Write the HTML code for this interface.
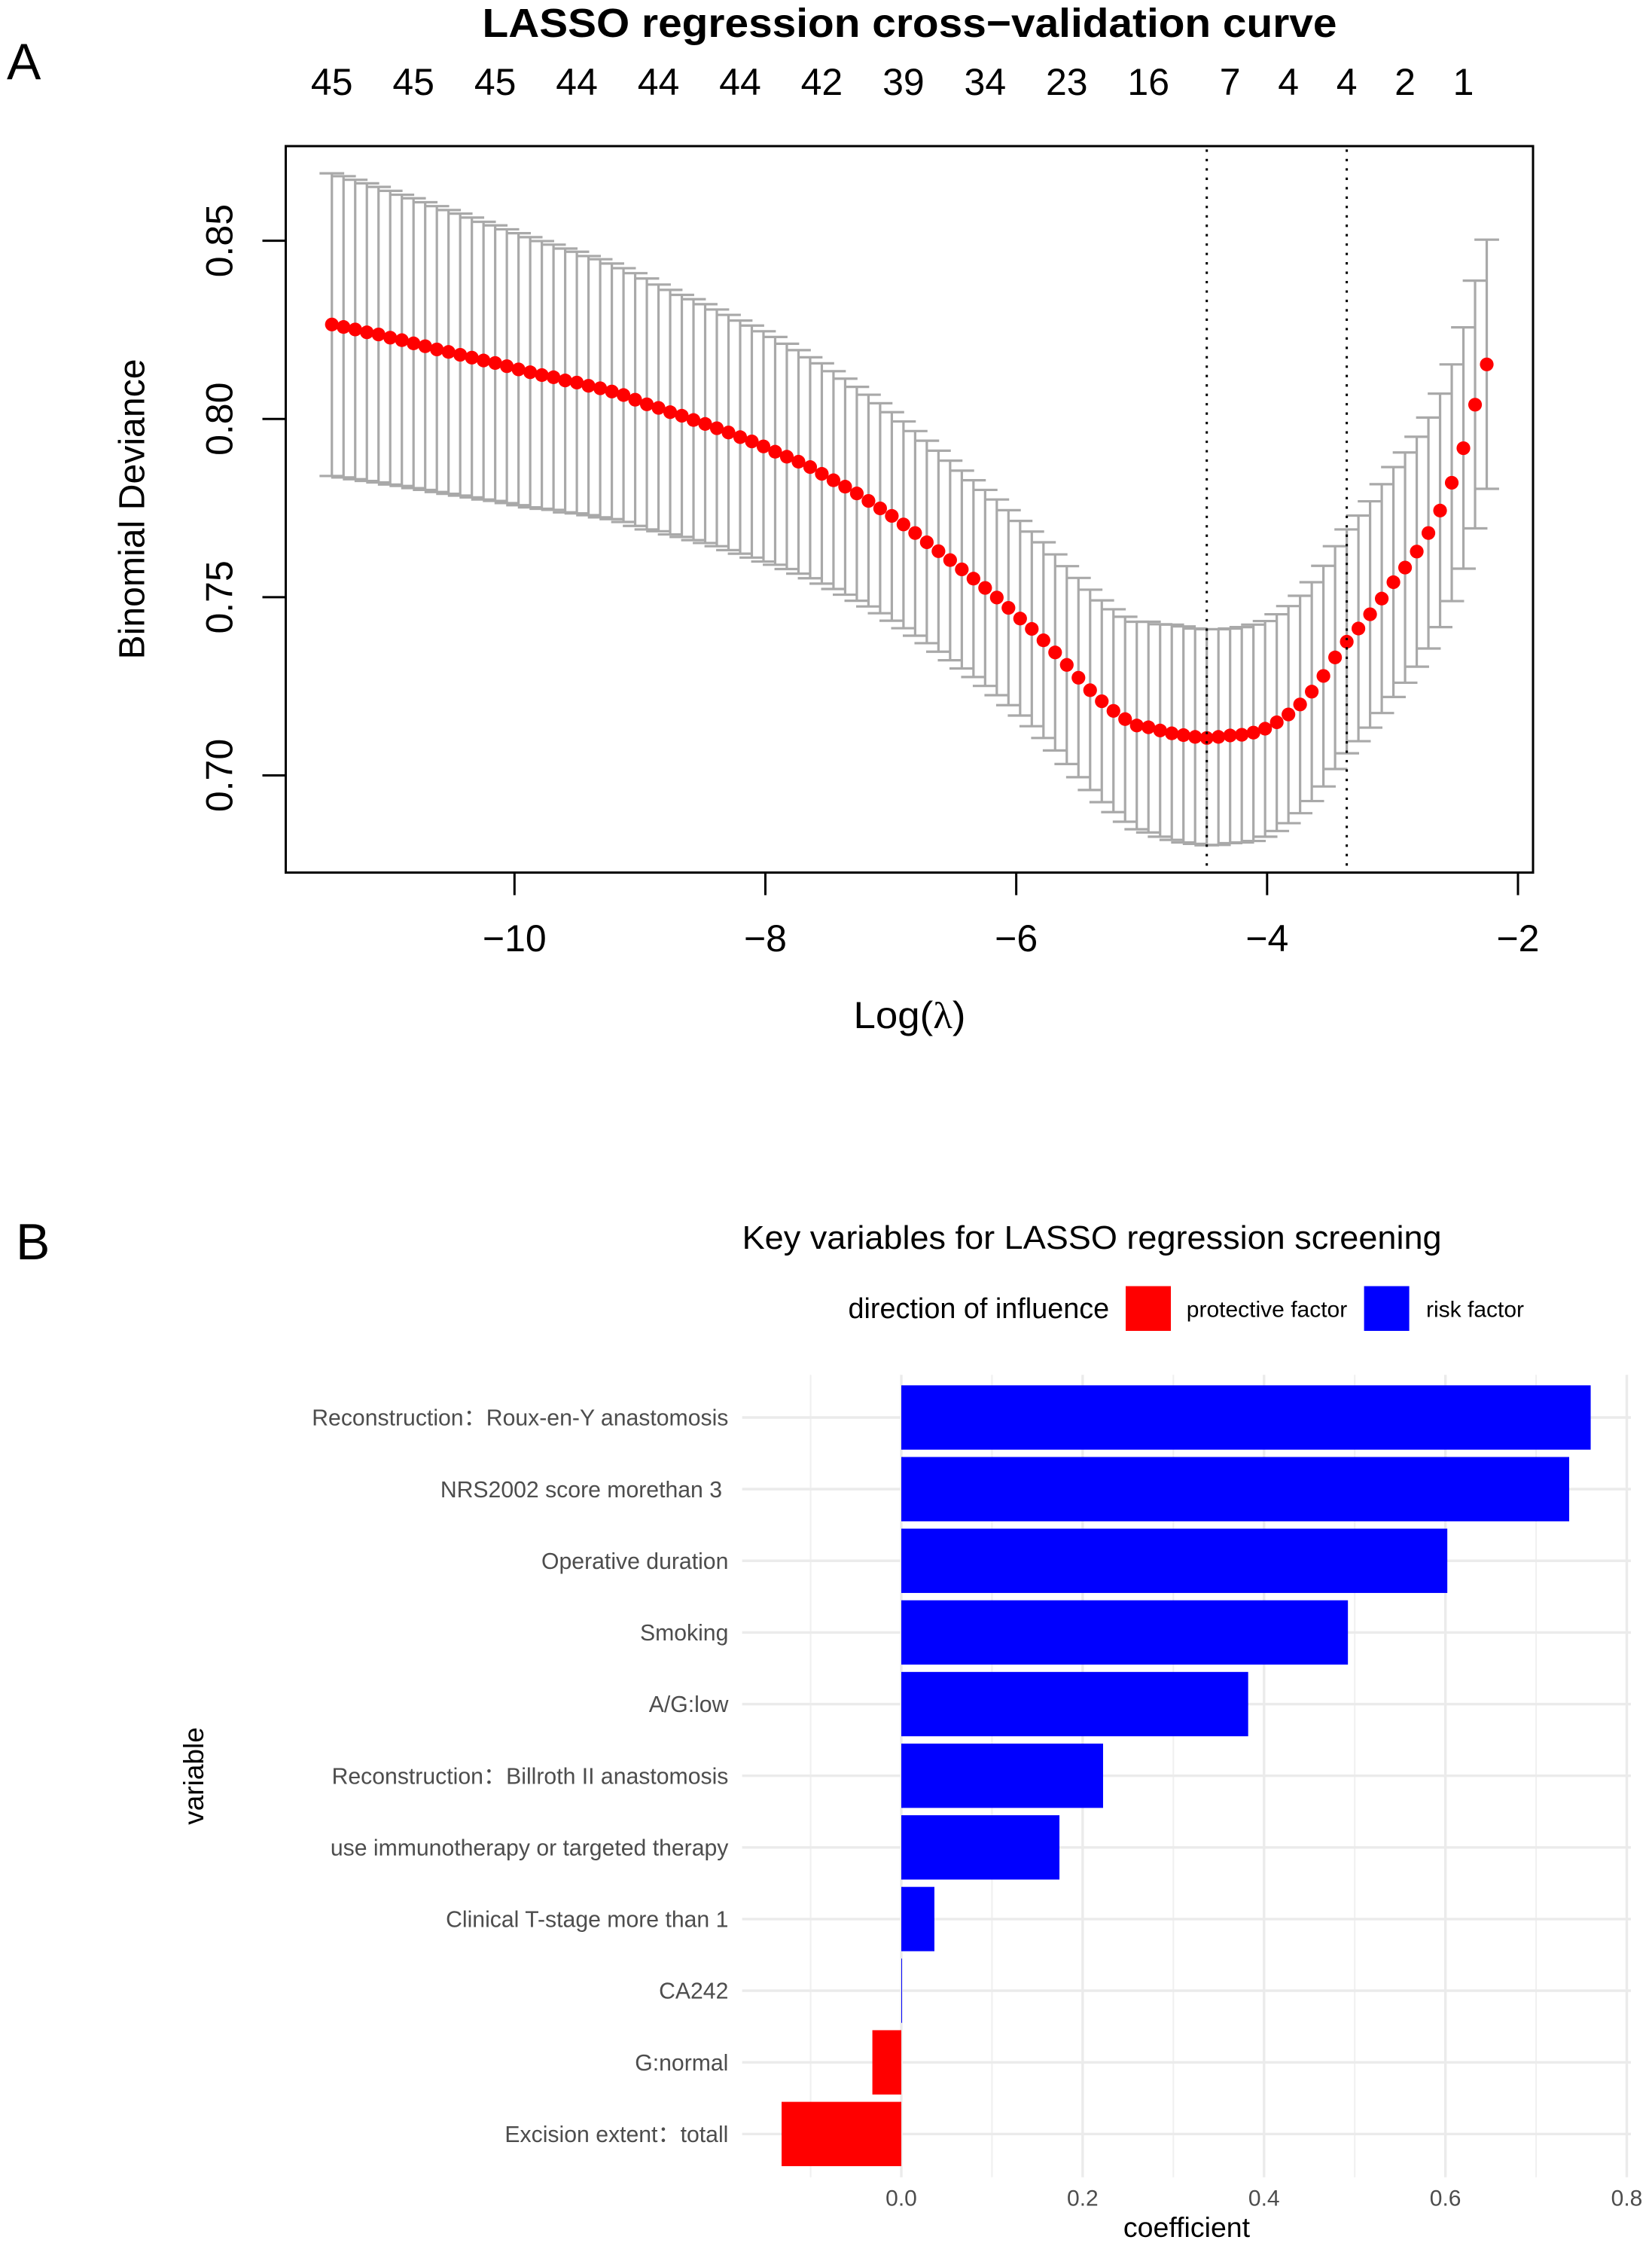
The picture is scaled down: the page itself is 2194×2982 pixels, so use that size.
<!DOCTYPE html>
<html lang="en">
<head>
<meta charset="utf-8">
<title>LASSO regression figure</title>
<style>
html,body{margin:0;padding:0;background:#fff;}
svg{display:block;font-family:"Liberation Sans","Noto Sans CJK SC",sans-serif;}
</style>
</head>
<body>
<svg id="figure" xmlns="http://www.w3.org/2000/svg" width="2194" height="2982" viewBox="0 0 2194 2982">
  <rect x="0" y="0" width="2194" height="2982" fill="#ffffff"/>
  <text x="9" y="105" font-size="68" fill="#000">A</text>
  <text x="1208" y="49" font-size="54" font-weight="bold" text-anchor="middle" textLength="1135" lengthAdjust="spacingAndGlyphs" fill="#000">LASSO regression cross−validation curve</text>
  <text x="191.5" y="676" font-size="48.2" text-anchor="middle" transform="rotate(-90 191.5 676)" fill="#000">Binomial Deviance</text>
  <text x="1208" y="1365" font-size="50" text-anchor="middle" textLength="149" lengthAdjust="spacingAndGlyphs" fill="#000">Log(<tspan font-family="'Liberation Serif',serif">λ</tspan>)</text>
  <g id="panelA"></g>

  <text x="21" y="1672" font-size="68" fill="#000">B</text>
  <text x="985.6" y="1658" font-size="44" textLength="929" lengthAdjust="spacingAndGlyphs" fill="#000">Key variables for LASSO regression screening</text>
  <g>
    <text x="1126.5" y="1750" font-size="37.8" fill="#000">direction of influence</text>
    <rect x="1495" y="1707.6" width="60" height="59.4" fill="#ff0000"/>
    <text x="1575.8" y="1748.7" font-size="30" fill="#000">protective factor</text>
    <rect x="1811.6" y="1707.6" width="60" height="59.4" fill="#0000ff"/>
    <text x="1894" y="1748.7" font-size="30" fill="#000">risk factor</text>
  </g>
  <text x="270" y="2358" font-size="37" text-anchor="middle" transform="rotate(-90 270 2358)" fill="#000">variable</text>
  <text x="1576" y="2970" font-size="37.5" text-anchor="middle" fill="#000">coefficient</text>
  <g id="panelB"></g>
</svg>
<script>
// ---------- Panel A data ----------
const logLambda = [-11.456,-11.363,-11.270,-11.177,-11.084,-10.991,-10.898,-10.805,-10.712,-10.619,
-10.526,-10.433,-10.340,-10.247,-10.154,-10.061,-9.968,-9.875,-9.782,-9.689,
-9.596,-9.503,-9.410,-9.317,-9.224,-9.131,-9.038,-8.945,-8.852,-8.759,
-8.666,-8.573,-8.480,-8.387,-8.294,-8.201,-8.108,-8.015,-7.922,-7.829,
-7.736,-7.643,-7.550,-7.457,-7.364,-7.271,-7.178,-7.085,-6.992,-6.899,
-6.806,-6.713,-6.620,-6.527,-6.434,-6.341,-6.248,-6.155,-6.062,-5.969,
-5.876,-5.783,-5.690,-5.597,-5.504,-5.411,-5.318,-5.225,-5.132,-5.039,
-4.946,-4.853,-4.760,-4.667,-4.574,-4.481,-4.388,-4.295,-4.202,-4.109,
-4.016,-3.923,-3.830,-3.737,-3.644,-3.551,-3.458,-3.365,-3.272,-3.179,
-3.086,-2.993,-2.900,-2.807,-2.714,-2.621,-2.528,-2.435,-2.342,-2.249];
const meanDeviance = [.8265,.8258,.8251,.8243,.8237,.8228,.8221,.8212,.8204,.8195,
.8188,.8180,.8172,.8164,.8157,.8148,.8139,.8131,.8123,.8117,
.8108,.8102,.8093,.8086,.8077,.8067,.8054,.8041,.8031,.8019,
.8009,.7997,.7986,.7974,.7962,.7949,.7937,.7923,.7908,.7894,
.7880,.7865,.7846,.7828,.7810,.7791,.7770,.7749,.7728,.7704,
.7680,.7654,.7629,.7604,.7578,.7552,.7526,.7499,.7470,.7440,
.7411,.7379,.7345,.7310,.7274,.7239,.7208,.7181,.7158,.7140,
.7135,.7126,.7118,.7113,.7108,.7105,.7108,.7112,.7114,.7120,
.7131,.7149,.7171,.7199,.7235,.7279,.7331,.7375,.7412,.7452,
.7496,.7542,.7583,.7628,.7680,.7743,.7821,.7918,.8040,.8153];
const upperDeviance = [.8689,.8681,.8671,.8661,.8651,.8640,.8629,.8619,.8608,.8597,
.8586,.8576,.8565,.8553,.8543,.8532,.8521,.8510,.8499,.8489,
.8478,.8469,.8457,.8448,.8436,.8423,.8409,.8394,.8377,.8362,
.8348,.8336,.8322,.8307,.8292,.8276,.8262,.8246,.8230,.8211,
.8193,.8173,.8156,.8134,.8113,.8090,.8068,.8044,.8019,.7993,
.7966,.7939,.7911,.7883,.7855,.7828,.7801,.7774,.7744,.7714,
.7684,.7654,.7620,.7587,.7554,.7521,.7491,.7466,.7445,.7431,
.7431,.7424,.7423,.7418,.7412,.7410,.7410,.7412,.7416,.7423,
.7433,.7452,.7475,.7504,.7542,.7588,.7643,.7690,.7729,.7769,
.7817,.7865,.7906,.7950,.8004,.8071,.8153,.8257,.8388,.8503];
const lowerDeviance = [.7840,.7836,.7831,.7826,.7822,.7816,.7812,.7806,.7801,.7795,
.7790,.7785,.7780,.7774,.7770,.7764,.7758,.7752,.7748,.7745,
.7738,.7735,.7730,.7724,.7719,.7711,.7700,.7690,.7685,.7676,
.7669,.7660,.7652,.7643,.7632,.7622,.7611,.7600,.7591,.7579,
.7566,.7553,.7538,.7523,.7507,.7490,.7474,.7455,.7434,.7413,
.7392,.7371,.7347,.7323,.7300,.7276,.7251,.7225,.7197,.7168,
.7138,.7105,.7070,.7032,.6995,.6959,.6925,.6897,.6870,.6849,
.6840,.6828,.6819,.6812,.6808,.6804,.6805,.6810,.6812,.6816,
.6828,.6844,.6866,.6894,.6928,.6969,.7018,.7062,.7096,.7134,
.7175,.7220,.7260,.7305,.7356,.7416,.7489,.7580,.7693,.7804];
const selectedLambdas = [-4.481,-3.365];
const xTickValues = [-10,-8,-6,-4,-2];
const xTickLabels = ["−10","−8","−6","−4","−2"];
const yTickValues = [0.70,0.75,0.80,0.85];
const yTickLabels = ["0.70","0.75","0.80","0.85"];
const topCountLabels = ["45","45","45","44","44","44","42","39","34","23","16","7","4","4","2","1"];
const topCountLogLambda = [-11.456,-10.805,-10.154,-9.503,-8.852,-8.201,-7.550,-6.899,-6.248,-5.597,-4.946,-4.295,-3.830,-3.365,-2.900,-2.435];

// ---------- Panel B data ----------
const variableNames = [
  "Reconstruction：Roux-en-Y anastomosis",
  "NRS2002 score morethan 3\u00a0",
  "Operative duration",
  "Smoking",
  "A/G:low",
  "Reconstruction：Billroth II anastomosis",
  "use immunotherapy or targeted therapy",
  "Clinical T-stage more than 1",
  "CA242",
  "G:normal",
  "Excision extent：totall"
];
const coefficients = [0.7602,0.7365,0.6021,0.4925,0.3825,0.2225,0.1744,0.0365,0.0008,-0.0319,-0.1320];
const coefMajorTicks = [0,0.2,0.4,0.6,0.8];
const coefMajorLabels = ["0.0","0.2","0.4","0.6","0.8"];
const coefMinorTicks = [-0.1,0.1,0.3,0.5,0.7];

// ---------- Axis functions ----------
const NS = "http://www.w3.org/2000/svg";
function scale(d0, d1, r0, r1) { return v => r0 + (v - d0) * (r1 - r0) / (d1 - d0); }
const xA = scale(-10, -2, 683.3, 2016);
const yA = scale(0.70, 0.85, 1029.5, 319.6);
const xB = scale(0, 0.8, 1197, 2160.5);
const yB = scale(0, 10, 1882, 2833.3);
const frame = {left: 379.5, right: 2036, top: 194, bottom: 1158.5};
const panelBox = {left: 985.6, right: 2166, top: 1825.4, bottom: 2890.7};

function make(tag, parent, props, text) {
  const el = document.createElementNS(NS, tag);
  for (const k in props) el.setAttribute(k, props[k]);
  if (text !== undefined) el.textContent = text;
  parent.appendChild(el);
  return el;
}

// ---------- Panel A ----------
const A = document.getElementById("panelA");
const caphalf = 16.4;
const grey = "#a9a9a9";

logLambda.forEach((l, i) => {
  const x = xA(l);
  const v = make("line", A, {x1: x, x2: x, y1: yA(upperDeviance[i]), y2: yA(lowerDeviance[i]), stroke: grey, "stroke-width": 3.2});
  
  
  const u = make("line", A, {x1: x - caphalf, x2: x + caphalf, y1: yA(upperDeviance[i]), y2: yA(upperDeviance[i]), stroke: grey, "stroke-width": 3.2});
  
  
  const d = make("line", A, {x1: x - caphalf, x2: x + caphalf, y1: yA(lowerDeviance[i]), y2: yA(lowerDeviance[i]), stroke: grey, "stroke-width": 3.2});
  
  
});
logLambda.forEach((l, i) => {
  const c = make("circle", A, {cx: xA(l), cy: yA(meanDeviance[i]), r: 9.1, fill: "#ff0000"});
  
  
});
selectedLambdas.forEach(l => {
  const s = make("line", A, {x1: xA(l), x2: xA(l), y1: frame.top + 4.4, y2: frame.bottom, stroke: "#000", "stroke-width": 3, "stroke-dasharray": "3.2 9.27"});
  
  
});
const box = make("rect", A, {x: frame.left, y: frame.top, width: frame.right - frame.left, height: frame.bottom - frame.top, fill: "none", stroke: "#000", "stroke-width": 3});



xTickValues.forEach((t, i) => {
  const tick = make("line", A, {x1: xA(t), x2: xA(t), y1: frame.bottom, y2: frame.bottom + 30, stroke: "#000", "stroke-width": 3});
  
  
  const lab = make("text", A, {x: xA(t), y: 1263, "font-size": 50, "text-anchor": "middle", fill: "#000"}, xTickLabels[i]);
  
  
});
yTickValues.forEach((t, i) => {
  const tick = make("line", A, {x1: frame.left - 31, x2: frame.left, y1: yA(t), y2: yA(t), stroke: "#000", "stroke-width": 3});
  
  
  const lab = make("text", A, {x: 308.7, y: yA(t), "font-size": 50, "text-anchor": "middle", fill: "#000", transform: "rotate(-90 308.7 " + yA(t) + ")"}, yTickLabels[i]);
  
  
});
topCountLabels.forEach((t, i) => {
  const lab = make("text", A, {x: xA(topCountLogLambda[i]), y: 126, "font-size": 50, "text-anchor": "middle", fill: "#000"}, t);
  
  
});

// ---------- Panel B ----------
const B = document.getElementById("panelB");
coefMinorTicks.forEach(t => {
  const g = make("line", B, {x1: xB(t), x2: xB(t), y1: panelBox.top, y2: panelBox.bottom, stroke: "#f0f0f0", "stroke-width": 2});
  
  
});
coefMajorTicks.forEach(t => {
  const g = make("line", B, {x1: xB(t), x2: xB(t), y1: panelBox.top, y2: panelBox.bottom, stroke: "#ebebeb", "stroke-width": 3.4});
  
  
});
variableNames.forEach((n, i) => {
  const g = make("line", B, {x1: panelBox.left, x2: panelBox.right, y1: yB(i), y2: yB(i), stroke: "#ebebeb", "stroke-width": 3.4});
  
  
});
const barHeight = 85.4;
coefficients.forEach((c, i) => {
  const x0 = Math.min(xB(0), xB(c));
  const w = Math.abs(xB(c) - xB(0));
  const r = make("rect", B, {x: x0, y: yB(i) - barHeight / 2, width: w, height: barHeight, fill: c < 0 ? "#ff0000" : "#0000ff"});
  
  
});
variableNames.forEach((n, i) => {
  const lab = make("text", B, {x: 967.4, y: yB(i) + 10.7, "font-size": 30.2, "text-anchor": "end", fill: "#4d4d4d"}, n);
  
  
});
coefMajorTicks.forEach((t, i) => {
  const lab = make("text", B, {x: xB(t), y: 2928.5, "font-size": 30, "text-anchor": "middle", fill: "#4d4d4d"}, coefMajorLabels[i]);
  
  
});
</script>
</body>
</html>
